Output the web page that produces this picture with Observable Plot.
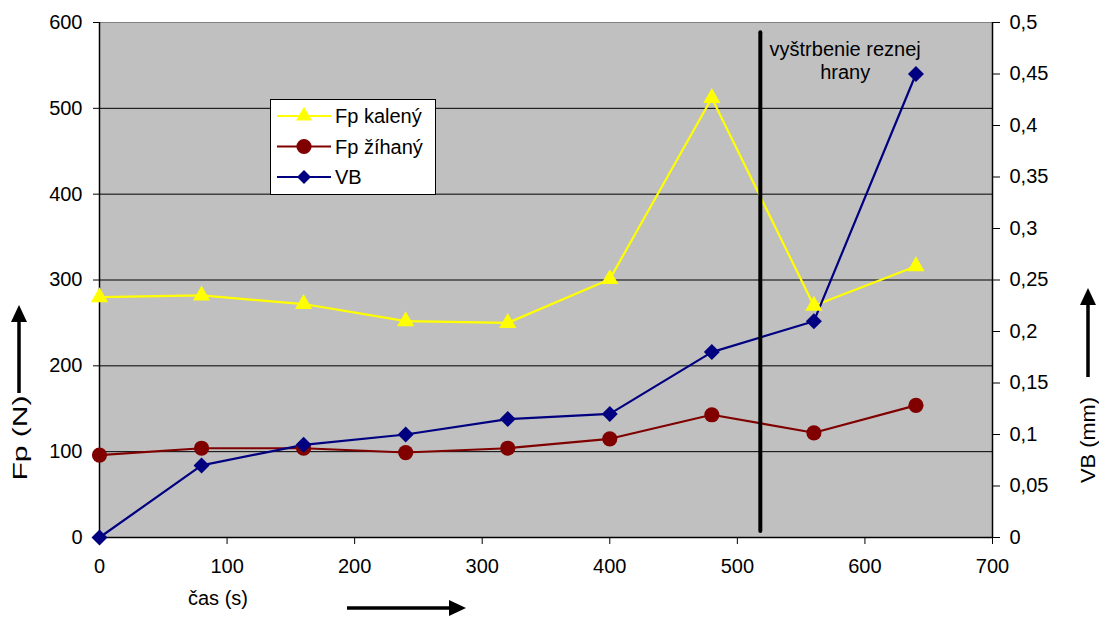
<!DOCTYPE html>
<html><head><meta charset="utf-8">
<script src="https://cdn.jsdelivr.net/npm/d3@7"></script>
<script src="https://cdn.jsdelivr.net/npm/@observablehq/plot@0.6"></script>
<style>body{margin:0;background:#fff}</style>
</head><body><div id="chart"></div>
<script>
// ---- data ----
const times = [0, 80, 160, 240, 320, 400, 480, 560, 640];
const fpKaleny = [280, 282, 272, 252, 250, 301, 512, 270, 316];
const fpZihany = [96, 104, 104, 99, 104, 115, 143, 122, 154];
const vbValues = [0, 0.07, 0.09, 0.10, 0.115, 0.12, 0.18, 0.21, 0.45];
const xTicks = [0, 100, 200, 300, 400, 500, 600, 700];
const yLeftTicks = [0, 100, 200, 300, 400, 500, 600];
const yRightTicks = [0, 0.05, 0.1, 0.15, 0.2, 0.25, 0.3, 0.35, 0.4, 0.45, 0.5];
const seriesNames = ["Fp kalený", "Fp žíhaný", "VB"];
const breakTime = 518;           // vertical marker (time)
const breakSpan = [7, 588];      // vertical extent in Fp units
const annotText = "vyštrbenie reznej\nhrany";
const annotPos = {t: 584.5, fp: 556};

// right axis (0..0.5 mm) mapped onto left axis (0..600 N)
const VB_FACTOR = 600 / 0.5;
const rows = times.map((t, i) => ({t, kaleny: fpKaleny[i], zihany: fpZihany[i], vb: vbValues[i] * VB_FACTOR}));
const fmtComma = v => (+v.toFixed(2) + "").replace(".", ",");

const FONT = "'Liberation Sans', Arial, sans-serif";
const FS = 20;
const W = 1099, H = 617, ML = 99, MR = 107, MT = 22, MB = 80;

const chart = Plot.plot({
  width: W, height: H,
  marginLeft: ML, marginRight: MR, marginTop: MT, marginBottom: MB,
  style: {fontFamily: FONT, fontSize: FS + "px", color: "black", background: "white", overflow: "visible"},
  x: {domain: [0, 700]},
  y: {domain: [0, 600]},
  marks: [
    Plot.frame({fill: "#c0c0c0", stroke: "#808080"}),
    Plot.gridY(yLeftTicks.filter(d => d > 0 && d < 600), {stroke: "black", strokeOpacity: 1, strokeWidth: 1}),
    Plot.ruleX([0, 700], {stroke: "black", strokeWidth: 1.5}),
    Plot.ruleY([0], {stroke: "black", strokeWidth: 1.5}),
    Plot.axisX(xTicks, {tickSize: 7, tickPadding: 14, label: null, fontSize: FS}),
    Plot.axisY(yLeftTicks, {anchor: "left", tickSize: 6, tickPadding: 11, label: null, fontSize: FS}),
    Plot.axisY(yRightTicks.map(v => v * VB_FACTOR), {anchor: "right", tickSize: 7, tickPadding: 10, label: null, fontSize: FS, tickFormat: d => fmtComma(d / VB_FACTOR)}),
    Plot.line(rows, {x: "t", y: "kaleny", stroke: "#ffff00", strokeWidth: 2.2}),
    Plot.line(rows, {x: "t", y: "zihany", stroke: "#800000", strokeWidth: 2.2}),
    Plot.line(rows, {x: "t", y: "vb", stroke: "#000080", strokeWidth: 2.2}),
    Plot.ruleX([breakTime], {y1: breakSpan[0], y2: breakSpan[1], stroke: "black", strokeWidth: 4, strokeLinecap: "round"}),
    Plot.dot(rows, {x: "t", y: "kaleny", symbol: "triangle", r: 6.4, fill: "#ffff00", stroke: "none"}),
    Plot.dot(rows, {x: "t", y: "zihany", symbol: "circle", r: 7.6, fill: "#800000", stroke: "none"}),
    Plot.dot(rows, {x: "t", y: "vb", symbol: "diamond2", r: 7.2, fill: "#000080", stroke: "none"}),
    Plot.text([annotText], {x: () => annotPos.t, y: () => annotPos.fp, text: d => d, fontSize: FS, lineHeight: 1.15, fill: "black"})
  ]
});

const svg = d3.select(chart);

// legend
const lg = svg.append("g").attr("style", `font-family:${FONT};font-size:${FS}px`).attr("text-anchor", "start");
lg.append("rect").attr("x", 270.5).attr("y", 99.5).attr("width", 165).attr("height", 95)
  .attr("fill", "white").attr("stroke", "black").attr("stroke-width", 1);
const legendItems = [
  {name: seriesNames[0], color: "#ffff00", sym: d3.symbolTriangle, size: 110},
  {name: seriesNames[1], color: "#800000", sym: d3.symbolCircle, size: 180},
  {name: seriesNames[2], color: "#000080", sym: d3.symbolDiamond2, size: 125}
];
legendItems.forEach((it, i) => {
  const y = 116 + i * 30.5;
  lg.append("line").attr("x1", 277).attr("x2", 331).attr("y1", y).attr("y2", y)
    .attr("stroke", it.color).attr("stroke-width", 2.2);
  lg.append("path").attr("d", d3.symbol(it.sym, it.size)()).attr("transform", `translate(304,${y})`).attr("fill", it.color);
  lg.append("text").attr("x", 335).attr("y", y + 7).attr("text-anchor", "start").text(it.name);
});

// axis titles
const tg = svg.append("g").attr("style", `font-family:${FONT};font-size:${FS}px`).attr("fill", "black");
tg.append("text").attr("transform", "translate(27,438) rotate(-90)").attr("text-anchor", "middle")
  .attr("textLength", 85).attr("lengthAdjust", "spacingAndGlyphs").text("Fp (N)");
tg.append("text").attr("transform", "translate(1095,440) rotate(-90)").attr("text-anchor", "middle")
  .attr("textLength", 86).attr("lengthAdjust", "spacingAndGlyphs").text("VB (mm)");
tg.append("text").attr("x", 188).attr("y", 605).attr("text-anchor", "start").text("čas (s)");

// arrows
function arrow(x1, y1, x2, y2) {
  const ang = Math.atan2(y2 - y1, x2 - x1);
  const hl = 17, hw = 8;
  const bx = x2 - hl * Math.cos(ang), by = y2 - hl * Math.sin(ang);
  svg.append("line").attr("x1", x1).attr("y1", y1).attr("x2", bx).attr("y2", by)
    .attr("stroke", "black").attr("stroke-width", 3.5);
  const px = -Math.sin(ang) * hw, py = Math.cos(ang) * hw;
  svg.append("path").attr("d", `M${x2},${y2}L${bx + px},${by + py}L${bx - px},${by - py}Z`).attr("fill", "black");
}
arrow(19, 393, 19, 305);
arrow(1088, 377, 1088, 288);
arrow(347, 608, 466, 608);

document.getElementById("chart").appendChild(chart);
</script>
</body></html>
